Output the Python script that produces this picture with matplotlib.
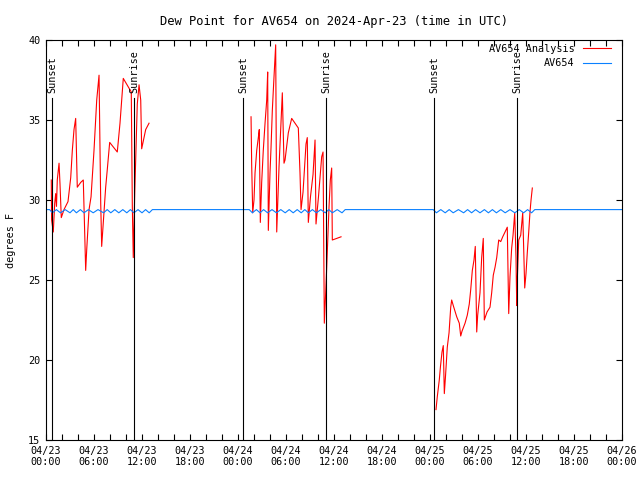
import numpy as np
import matplotlib
matplotlib.use("Agg")
import matplotlib.pyplot as plt

# hours since 04/23 00:00 UTC
tick_hours = [0, 6, 12, 18, 24, 30, 36, 42, 48, 54, 60, 66, 72]
tick_labels = ['04/23\n00:00', '04/23\n06:00', '04/23\n12:00', '04/23\n18:00',
               '04/24\n00:00', '04/24\n06:00', '04/24\n12:00', '04/24\n18:00',
               '04/25\n00:00', '04/25\n06:00', '04/25\n12:00', '04/25\n18:00',
               '04/26\n00:00']

sun_hours = [0.75, 11.0, 24.63, 35.0, 48.5, 58.9]
sun_names = ['Sunset', 'Sunrise', 'Sunset', 'Sunrise', 'Sunset', 'Sunrise']

# AV654 Analysis (three nights)
ana_t1 = [0.66, 0.7, 0.91, 1.09, 1.21, 1.31, 1.41, 1.63, 1.75, 1.91, 2.25, 2.75, 3.09,
          3.29, 3.5, 3.71, 3.91, 4.34, 4.66, 4.84, 4.96, 5.09, 5.38, 5.63, 6.0, 6.34,
          6.63, 6.84, 6.96, 7.19, 7.46, 7.66, 7.96, 8.91, 9.25, 9.66, 10.66, 10.79,
          10.91, 11.09, 11.41, 11.63, 11.84, 11.96, 12.46, 12.88]
ana_v1 = [31.25, 28.75, 28.0, 29.8, 30.4, 29.6, 31.25, 32.3, 31.0, 28.9, 29.4, 29.9, 31.4,
          33.1, 34.4, 35.1, 30.8, 31.1, 31.25, 27.9, 25.6, 26.9, 29.4, 30.2, 33.1, 36.25,
          37.8, 29.8, 27.1, 28.8, 30.8, 31.9, 33.6, 33.0, 34.8, 37.6, 36.75, 29.6,
          26.4, 30.4, 36.0, 37.2, 36.25, 33.2, 34.4, 34.8]
ana_t2 = [25.63, 25.71, 25.84, 26.0, 26.13, 26.34, 26.54, 26.66, 26.79, 26.96, 27.16,
          27.38, 27.59, 27.71, 27.79, 28.0, 28.13, 28.29, 28.46, 28.71, 28.84, 29.13,
          29.54, 29.75, 29.88, 30.29, 30.71, 31.54, 31.75, 31.88, 32.13, 32.5, 32.66,
          32.79, 33.06, 33.38, 33.63, 33.75, 34.06, 34.46, 34.63, 34.71, 34.79, 34.96,
          35.09, 35.38, 35.54, 35.71, 35.79, 36.34, 36.88]
ana_v2 = [35.2, 32.2, 29.2, 30.0, 31.7, 33.1, 33.9, 34.4, 28.6, 31.1, 33.1,
          34.8, 36.25, 38.0, 28.1, 31.7, 33.3, 35.6, 37.3, 39.7, 28.0, 32.1,
          36.7, 32.3, 32.5, 34.2, 35.1, 34.5, 31.7, 29.4, 30.5, 33.5, 33.9,
          28.6, 30.2, 31.6, 33.75, 28.5, 30.2, 32.7, 33.0, 27.7, 22.3, 24.2,
          25.8, 29.6, 31.25, 32.0, 27.5, 27.6, 27.7]
ana_t3 = [48.75, 48.91, 49.16, 49.31, 49.5, 49.66, 49.79, 49.94, 50.16, 50.38, 50.59,
          50.71, 50.91, 51.34, 51.66, 51.84, 52.0, 52.38, 52.66, 52.91, 53.09, 53.29,
          53.5, 53.66, 53.84, 53.96, 54.25, 54.46, 54.66, 54.79, 55.13, 55.5, 55.71,
          55.91, 56.13, 56.34, 56.59, 56.84, 57.09, 57.38, 57.66, 57.75, 57.84, 58.0,
          58.21, 58.38, 58.59, 58.75, 58.84, 58.91, 59.09, 59.34, 59.59, 59.71, 59.84,
          60.0, 60.16, 60.34, 60.5, 60.63, 60.79]
ana_v3 = [16.9, 17.7, 18.75, 19.6, 20.5, 20.9, 17.9, 19.0, 20.8, 21.7, 23.3,
          23.75, 23.4, 22.7, 22.3, 21.5, 21.8, 22.3, 22.8, 23.5, 24.4, 25.6,
          26.25, 27.1, 21.75, 22.8, 24.2, 26.4, 27.6, 22.5, 23.0, 23.3, 24.2,
          25.3, 25.8, 26.4, 27.5, 27.4, 27.7, 28.0, 28.3, 25.6, 22.9, 25.2,
          27.0, 27.8, 29.2, 26.4, 23.4, 25.0, 27.5, 27.8, 29.2, 27.0, 24.5,
          25.4, 26.7, 28.0, 29.25, 30.0, 30.75]

# AV654 observations
obs_t = [0, 0.45, 0.8, 1.3, 1.8, 2.4, 3.0, 3.4, 3.8, 4.3, 4.75, 5.3, 5.9, 6.5, 7.2, 7.65,
         8.1, 8.6, 9.1, 9.6, 10.1, 10.55, 11.0, 11.5, 12.0, 12.45, 12.9, 13.3,
         25.4, 25.8, 26.3, 26.75, 27.2, 27.7, 28.25, 28.8, 29.35, 29.9, 30.4, 30.9,
         31.4, 31.9, 32.35, 32.8, 33.3, 33.8, 34.35, 34.9, 35.35, 35.8, 36.4, 37.0, 37.4,
         48.4, 48.8, 49.35, 49.9, 50.4, 50.9, 51.55, 52.2, 52.7, 53.2, 53.7, 54.25,
         54.8, 55.3, 55.8, 56.3, 56.85, 57.4, 58.0, 58.6, 59.15, 59.7, 60.2, 60.7, 61.1, 72]
obs_v = [29.4, 29.4, 29.2, 29.4, 29.2, 29.4, 29.2, 29.4, 29.2, 29.4, 29.2, 29.4, 29.2,
         29.4, 29.2, 29.4, 29.2, 29.4, 29.2, 29.4, 29.2, 29.4, 29.2, 29.4, 29.2, 29.4,
         29.2, 29.4,
         29.4, 29.2, 29.4, 29.2, 29.4, 29.2, 29.4, 29.2, 29.4, 29.2, 29.4, 29.2,
         29.4, 29.2, 29.4, 29.2, 29.4, 29.2, 29.4, 29.2, 29.4, 29.2, 29.4, 29.2, 29.4,
         29.4, 29.2, 29.4, 29.2, 29.4, 29.2, 29.4, 29.2, 29.4, 29.2, 29.4, 29.2,
         29.4, 29.2, 29.4, 29.2, 29.4, 29.2, 29.4, 29.2, 29.4, 29.2, 29.4, 29.2, 29.4, 29.4]

plt.rcParams['font.family'] = 'DejaVu Sans Mono'
plt.rcParams['font.size'] = 7.3

fig = plt.figure(figsize=(6.4, 4.8), dpi=100)
ax = fig.add_axes([46/640, 40/480, 576/640, 400/480])

red = '#ff0000'
blue = '#0a80ff'
lw = 0.8
ax.plot(ana_t1, ana_v1, color=red, lw=lw, label='AV654 Analysis')
ax.plot(ana_t2, ana_v2, color=red, lw=lw)
ax.plot(ana_t3, ana_v3, color=red, lw=lw)
ax.plot(obs_t, obs_v, color=blue, lw=lw, label='AV654')

for h, name in zip(sun_hours, sun_names):
    ax.plot([h, h], [15, 36.4], color='black', lw=lw)
    ax.text(h, 36.7, name, rotation=90, ha='center', va='bottom')

ax.set_xlim(0, 72)
ax.set_ylim(15, 40)
ax.set_xticks(tick_hours)
ax.set_xticklabels(tick_labels)
ax.set_xticks(np.arange(0, 73, 2), minor=True)
ax.set_yticks([15, 20, 25, 30, 35, 40])
ax.tick_params(which='both', direction='in', top=True, right=True, width=0.8)
ax.tick_params(which='major', length=4, pad=4)
ax.tick_params(which='minor', length=4)
for s in ax.spines.values():
    s.set_linewidth(0.8)

ax.set_title('Dew Point for AV654 on 2024-Apr-23 (time in UTC)', pad=11)
ax.set_ylabel('degrees F', labelpad=9)

leg = ax.legend(loc='upper right', frameon=False, markerfirst=False,
                bbox_to_anchor=((611 - 46) / 576, 1 - 4 / 400),
                borderaxespad=0, borderpad=0,
                handlelength=2.8, handletextpad=0.8, labelspacing=0.4)
for t in leg.get_texts():
    t.set_ha('right')

fig.savefig('out.png', dpi=100)
